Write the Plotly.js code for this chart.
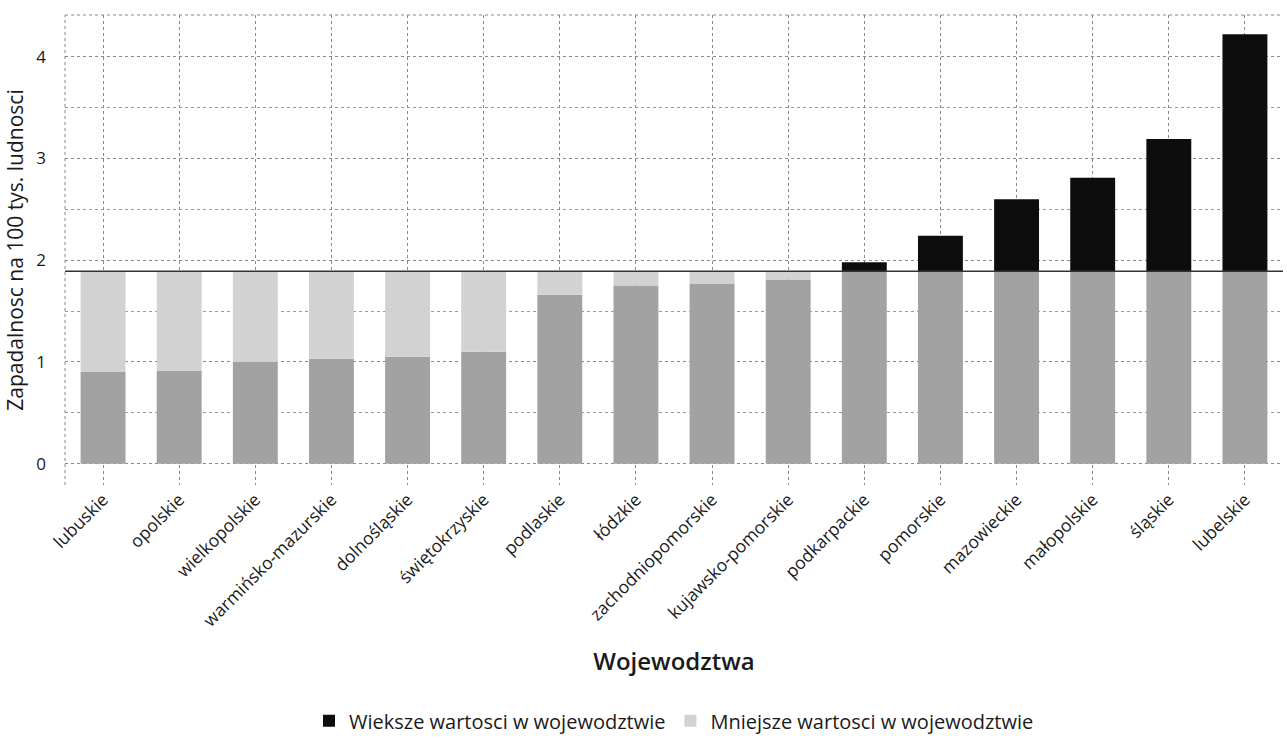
<!DOCTYPE html>
<html>
<head>
<meta charset="utf-8">
<script src="https://cdn.plot.ly/plotly-3.0.1.min.js"></script>
<style>html,body{margin:0;padding:0;background:#fff}#chart{width:1287px;height:749px}</style>
</head>
<body>
<div id="chart"></div>
<script>
const regions = ["lubuskie","opolskie","wielkopolskie","warmińsko-mazurskie","dolnośląskie","świętokrzyskie","podlaskie","łódzkie","zachodniopomorskie","kujawsko-pomorskie","podkarpackie","pomorskie","mazowieckie","małopolskie","śląskie","lubelskie"];
const values = [0.90,0.91,1.00,1.03,1.05,1.10,1.66,1.75,1.77,1.81,1.98,2.24,2.60,2.81,3.19,4.22];
const average = 1.89;
const seriesNames = ["Wieksze wartosci w wojewodztwie","Mniejsze wartosci w wojewodztwie"];
const yTicks = [0,1,2,3,4];

const baseH = values.map(v => Math.min(v, average));
const aboveH = values.map(v => v > average ? v - average : null);
const belowBase = values.map(v => v < average ? v : null);
const belowH = values.map(v => v < average ? average - v : null);

const traces = [
  {type:'bar', x:regions, y:baseH, marker:{color:'#a2a2a2', line:{width:0}}, showlegend:false, hoverinfo:'skip', name:'base'},
  {type:'bar', x:regions, y:aboveH, base:values.map(v => v > average ? average : null), marker:{color:'#0d0d0d', line:{width:0}}, name:seriesNames[0]},
  {type:'bar', x:regions, y:belowH, base:belowBase, marker:{color:'#d2d2d2', line:{width:0}}, name:seriesNames[1]}
];

const layout = {
  width:1287, height:749,
  margin:{l:65, r:4, t:15, b:264},
  paper_bgcolor:'#fff', plot_bgcolor:'#fff',
  font:{family:'Open Sans, Noto Sans, sans-serif', color:'#1a1a1a', size:17},
  barmode:'overlay', bargap:0.41,
  xaxis:{
    type:'category', tickangle:-45, tickfont:{size:17.5},
    showgrid:true, gridcolor:'#888', griddash:'dot', gridwidth:1,
    zeroline:false, showline:false, ticks:'', automargin:false,
    title:{text:'Wojewodztwa', font:{size:24, color:'#1a1a1a', weight:600}, standoff:22}
  },
  yaxis:{
    range:[-0.21,4.41], tickvals:yTicks, ticktext:yTicks.map(String),
    showgrid:true, gridcolor:'#888', griddash:'dot', gridwidth:1,
    minor:{dtick:0.5, showgrid:true, gridcolor:'#999', griddash:'dot', gridwidth:1},
    zeroline:false, showline:false, ticks:'', ticklabelstandoff:18,
    tickfont:{size:17}, automargin:false,
    title:{text:'Zapadalnosc na 100 tys. ludnosci', font:{size:21, color:'#1a1a1a'}, standoff:6}
  },
  legend:{orientation:'h', x:0.5, xanchor:'center', y:-0.46, yanchor:'top', font:{size:20}, traceorder:'normal', itemwidth:30},
  shapes:[
    {type:'line', xref:'paper', yref:'y', x0:0, x1:1, y0:average, y1:average, line:{color:'#333', width:1.5}, layer:'above'},
    {type:'line', xref:'paper', yref:'paper', x0:0, x1:0, y0:0, y1:1, line:{color:'#888', width:1, dash:'dot'}},
    {type:'line', xref:'paper', yref:'paper', x0:0, x1:1, y0:1, y1:1, line:{color:'#888', width:1, dash:'dot'}}
  ]
};

Plotly.newPlot('chart', traces, layout, {displayModeBar:false, staticPlot:true});
</script>
</body>
</html>
